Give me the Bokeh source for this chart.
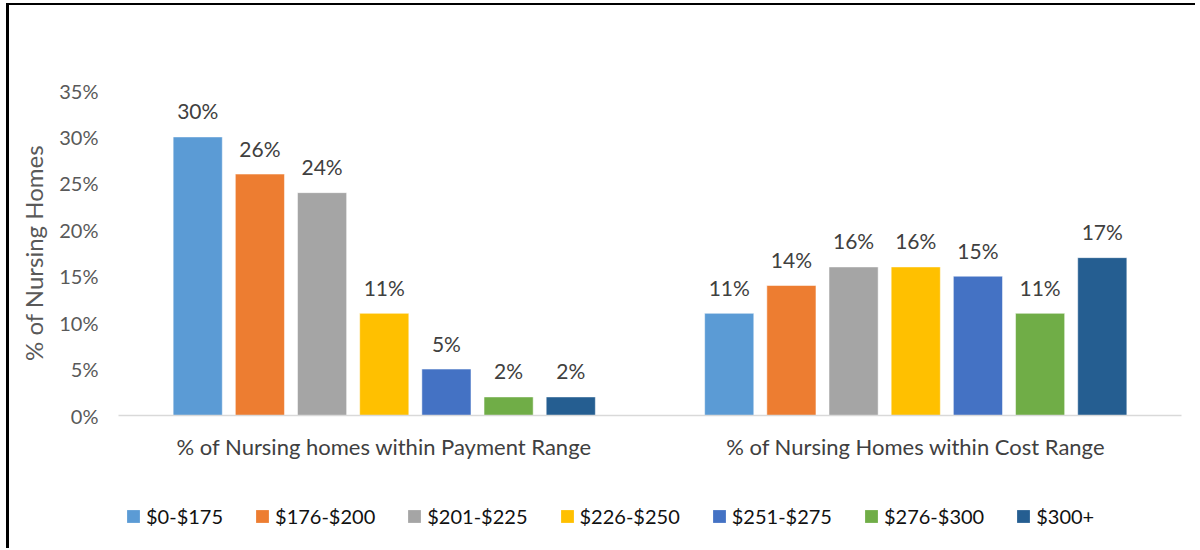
from bokeh.plotting import figure
from bokeh.layouts import column
from bokeh.models import ColumnDataSource, Legend, LegendItem, PrintfTickFormatter, FixedTicker
from bokeh.transform import dodge
from bokeh.core.properties import value
from bokeh.embed import file_html
from bokeh.resources import INLINE

groups = ["% of Nursing homes within Payment Range", "% of Nursing Homes within Cost Range"]
brackets = ["$0-$175", "$176-$200", "$201-$225", "$226-$250", "$251-$275", "$276-$300", "$300+"]
payment = [30, 26, 24, 11, 5, 2, 2]
cost = [11, 14, 16, 16, 15, 11, 17]
colors = ["#5B9BD5", "#ED7D31", "#A5A5A5", "#FFC000", "#4472C4", "#70AD47", "#255E91"]
y_ticks = [0, 5, 10, 15, 20, 25, 30, 35]

FONT = "Lato"
W = 1186

p = figure(x_range=groups, y_range=(0, 35), width=W, height=475,
           output_backend="svg", toolbar_location=None,
           min_border_left=109, min_border_right=14, min_border_top=85, min_border_bottom=65)

# legend strip below the chart
p2 = figure(width=W, height=68, output_backend="svg", toolbar_location=None,
            x_axis_type=None, y_axis_type=None,
            min_border_left=0, min_border_right=0, min_border_top=0, min_border_bottom=0,
            x_range=(0, 1), y_range=(0, 1))
p2.grid.grid_line_color = None
p2.outline_line_color = None

pitch = 62 / 530
bw = 49 / 530
items = []
for i, (b, c) in enumerate(zip(brackets, colors)):
    vals = [payment[i], cost[i]]
    src = ColumnDataSource(dict(group=groups, value=vals, label=[f"{v}%" for v in vals]))
    off = (i - 3) * pitch
    p.vbar(x=dodge("group", off, range=p.x_range), top="value", width=bw, bottom=0,
           source=src, fill_color=c, line_color="white", line_width=0.5)
    p.text(x=dodge("group", off, range=p.x_range), y="value", text="label", source=src,
           text_align="center", text_baseline="alphabetic", y_offset=-26,
           text_font=value(FONT), text_font_size="21px", text_color="#404040")
    lr = p2.vbar(x=[0.5], top=[0], bottom=[0], width=0.01, fill_color=c, line_color=None)
    items.append(LegendItem(label=b, renderers=[lr]))

legend = Legend(items=items, orientation="horizontal", location=(7, 20),
                glyph_width=16, glyph_height=16, label_standoff=5, spacing=31,
                label_text_font=FONT, label_text_font_size="20px", label_text_color="#111111",
                padding=0, margin=0, border_line_color=None, background_fill_alpha=0)
p2.add_layout(legend, "center")

p.xgrid.grid_line_color = None
p.ygrid.grid_line_color = None
p.outline_line_color = None

p.xaxis.axis_line_color = "#d9d9d9"
p.xaxis.axis_line_width = 1.5
p.xaxis.major_tick_line_color = None
p.xaxis.minor_tick_line_color = None
p.xaxis.major_tick_out = 0
p.xaxis.major_tick_in = 0
p.xaxis.major_label_standoff = 17
p.xaxis.major_label_text_font = FONT
p.xaxis.major_label_text_font_size = "22px"
p.xaxis.major_label_text_color = "#404040"

p.yaxis.axis_line_color = None
p.yaxis.major_tick_line_color = None
p.yaxis.minor_tick_line_color = None
p.yaxis.major_tick_out = 0
p.yaxis.major_tick_in = 0
p.yaxis.ticker = FixedTicker(ticks=y_ticks)
p.yaxis.formatter = PrintfTickFormatter(format="%d%%")
p.yaxis.major_label_standoff = 20
p.yaxis.major_label_text_font = FONT
p.yaxis.major_label_text_font_size = "20px"
p.yaxis.major_label_text_color = "#595959"
p.yaxis.axis_label = "% of Nursing Homes"
p.yaxis.axis_label_text_font = FONT
p.yaxis.axis_label_text_font_size = "24px"
p.yaxis.axis_label_text_font_style = "normal"
p.yaxis.axis_label_text_color = "#595959"
p.yaxis.axis_label_standoff = 8

layout = column(p, p2, spacing=0)
layout.styles = {"border-top": "2px solid black", "border-left": "3px solid black",
                 "margin-top": "3px", "margin-left": "6px"}

open("out.html", "w").write(file_html(layout, INLINE))
